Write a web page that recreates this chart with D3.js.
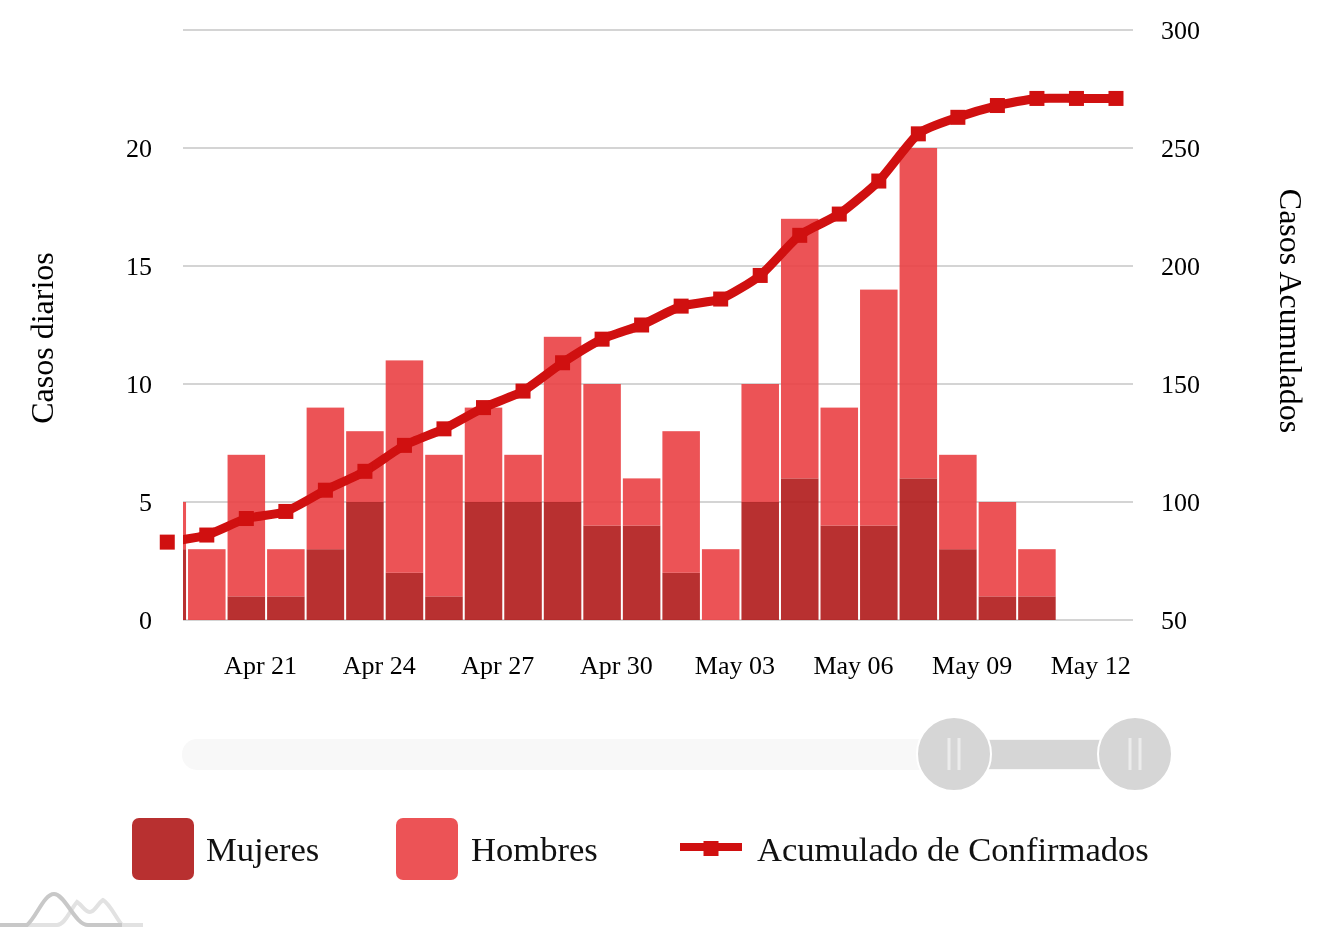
<!DOCTYPE html>
<html>
<meta http-equiv="content-type" content="text/html; charset=utf-8" />
<head>
    <title>Casos diarios y acumulados</title>
</head>

<style>
html, body { margin: 0; padding: 0; background: #fff; }
svg { display: block; filter: blur(0.7px); }
text { font-family: "Liberation Serif", serif; fill: #000; }
.axis text { font-size: 26px; }
.axis path, .axis line { display: none; }
.title { font-size: 32px; }
.legend text { font-size: 34.6px; fill: #111; }
.grid line { stroke: #c6c6c6; stroke-width: 1.5; }
</style>

<svg class="chart" width="1338" height="940"></svg>
<script src="https://d3js.org/d3.v7.min.js"></script>

<script type="text/javascript">
var dias = ["2020-04-18","2020-04-19","2020-04-20","2020-04-21","2020-04-22","2020-04-23","2020-04-24","2020-04-25",
  "2020-04-26","2020-04-27","2020-04-28","2020-04-29","2020-04-30","2020-05-01","2020-05-02","2020-05-03",
  "2020-05-04","2020-05-05","2020-05-06","2020-05-07","2020-05-08","2020-05-09","2020-05-10","2020-05-11","2020-05-12"];
var mujeres = [3,0,1,1,3,5,2,1,5,5,5,4,4,2,0,5,6,4,4,6,3,1,1,0,0];
var hombres = [2,3,6,2,6,3,9,6,4,2,7,6,2,6,3,5,11,5,10,14,4,4,2,0,0];
var acumulado = [83,86,93,96,105,113,124,131,140,147,159,169,175,183,186,196,213,222,236,256,263,268,271,271,271];
var tickFechas = ["2020-04-21","2020-04-24","2020-04-27","2020-04-30","2020-05-03","2020-05-06","2020-05-09","2020-05-12"];
var ticksIzq = [0,5,10,15,20];
var ticksDer = [50,100,150,200,250,300];

var parse = d3.utcParse("%Y-%m-%d");
var fechas = dias.map(parse);
var plot = {left: 183, right: 1133, top: 30, bottom: 620};

// each day owns the band from its date to the next one
var x = d3.scaleUtc()
  .domain([parse("2020-04-18"), parse("2020-05-12")])
  .range([147.5, 147.5 + 24 * 39.53]);
var yLeft = d3.scaleLinear().domain([0, 25]).range([plot.bottom, plot.top]);
var yRight = d3.scaleLinear().domain([50, 300]).range([plot.bottom, plot.top]);

var chart = d3.select(".chart");

chart.append("defs").append("clipPath").attr("id", "plot")
  .append("rect")
  .attr("x", plot.left).attr("y", 0)
  .attr("width", plot.right - plot.left).attr("height", plot.bottom + 1);

// grid
chart.append("g").attr("class", "grid")
  .selectAll("line").data(ticksDer).enter().append("line")
  .attr("x1", plot.left).attr("x2", plot.right)
  .attr("y1", function(d) { return yRight(d); })
  .attr("y2", function(d) { return yRight(d); });

// stacked bars, grid shows through a little
var filas = fechas.map(function(f, i) { return {fecha: f, mujeres: mujeres[i], hombres: hombres[i]}; });
var series = d3.stack().keys(["mujeres", "hombres"])(filas);
var colores = {mujeres: "#b01919", hombres: "#ea4044"};

chart.append("g").attr("clip-path", "url(#plot)")
  .selectAll("g").data(series).enter().append("g")
  .attr("fill", function(s) { return colores[s.key]; })
  .attr("fill-opacity", 0.9)
  .selectAll("rect").data(function(s) { return s; }).enter().append("rect")
  .attr("x", function(d) { return x(d.data.fecha) + 1; })
  .attr("y", function(d) { return yLeft(d[1]); })
  .attr("width", x(fechas[1]) - x(fechas[0]) - 2)
  .attr("height", function(d) { return yLeft(d[0]) - yLeft(d[1]); });

// axes
var xAxis = d3.axisBottom(x)
  .tickValues(tickFechas.map(parse))
  .tickFormat(d3.utcFormat("%b %d"))
  .tickSize(0);
var gx = chart.append("g").attr("class", "x axis")
  .attr("transform", "translate(-6," + (plot.bottom + 36) + ")")
  .call(xAxis);
gx.selectAll("text").attr("dy", "0.71em").attr("y", 0);

chart.append("g").attr("class", "y axis")
  .attr("transform", "translate(152,0)")
  .call(d3.axisLeft(yLeft).tickValues(ticksIzq).tickSize(0).tickPadding(0));

chart.append("g").attr("class", "y axis")
  .attr("transform", "translate(1161,0)")
  .call(d3.axisRight(yRight).tickValues(ticksDer).tickSize(0).tickPadding(0));

chart.append("text").attr("class", "title")
  .attr("transform", "translate(53,338) rotate(-90)")
  .attr("text-anchor", "middle")
  .text("Casos diarios");
chart.append("text").attr("class", "title")
  .attr("transform", "translate(1280,311) rotate(90)")
  .attr("text-anchor", "middle")
  .text("Casos Acumulados");

// cumulative line
var mitad = (x(fechas[1]) - x(fechas[0])) / 2;
function px(i) { return x(fechas[i]) + mitad; }
var linea = d3.line()
  .x(function(d, i) { return px(i); })
  .y(function(d) { return yRight(d); })
  .curve(d3.curveCardinal.tension(0.4));
var rojo = "#d01010";

chart.append("g").attr("clip-path", "url(#plot)").append("path")
  .attr("d", linea(acumulado))
  .attr("fill", "none")
  .attr("stroke", rojo)
  .attr("stroke-width", 9);

chart.append("g").selectAll("rect").data(acumulado).enter().append("rect")
  .attr("x", function(d, i) { return px(i) - 7.5; })
  .attr("y", function(d) { return yRight(d) - 7.5; })
  .attr("width", 15).attr("height", 15)
  .attr("fill", rojo);

// slider
var slider = chart.append("g");
slider.append("rect").attr("x", 182).attr("y", 739).attr("width", 952).attr("height", 31).attr("rx", 15).attr("fill", "#f8f8f8");
slider.append("rect").attr("x", 955).attr("y", 740).attr("width", 180).attr("height", 29).attr("fill", "#d6d6d6");
[954, 1135].forEach(function(cx) {
  var t = slider.append("g").attr("transform", "translate(" + cx + ",754)");
  t.append("circle").attr("r", 37).attr("fill", "#d6d6d6").attr("stroke", "#fff").attr("stroke-width", 2);
  [-5, 5].forEach(function(dx) {
    t.append("line").attr("x1", dx).attr("x2", dx).attr("y1", -16).attr("y2", 16)
      .attr("stroke", "#ececec").attr("stroke-width", 3);
  });
});

// legend
var legend = chart.append("g").attr("class", "legend");
[["Mujeres", colores.mujeres, 132, 206], ["Hombres", colores.hombres, 396, 471]].forEach(function(l) {
  legend.append("rect").attr("x", l[2]).attr("y", 818).attr("width", 62).attr("height", 62).attr("rx", 7)
    .attr("fill", l[1]).attr("fill-opacity", 0.9);
  legend.append("text").attr("x", l[3]).attr("y", 861).text(l[0]);
});
legend.append("line").attr("x1", 680).attr("x2", 742).attr("y1", 847).attr("y2", 847)
  .attr("stroke", rojo).attr("stroke-width", 8);
legend.append("rect").attr("x", 703.5).attr("y", 841).attr("width", 15).attr("height", 15).attr("fill", rojo);
legend.append("text").attr("x", 757).attr("y", 861).text("Acumulado de Confirmados");

// logo
var logo = chart.append("g").attr("fill", "none").attr("stroke-width", 4);
logo.append("path").attr("stroke", "#e2e2e2")
  .attr("d", "M0,925H57C65,925 70,910 77,902C83,906 85,912 90,912C95,912 97,904 103,900C110,904 116,918 122,925H143");
logo.append("path").attr("stroke", "#c8c8c8")
  .attr("d", "M0,925H27C36,918 44,894 54,894C65,894 75,925 88,925H122");
</script>

</html>
